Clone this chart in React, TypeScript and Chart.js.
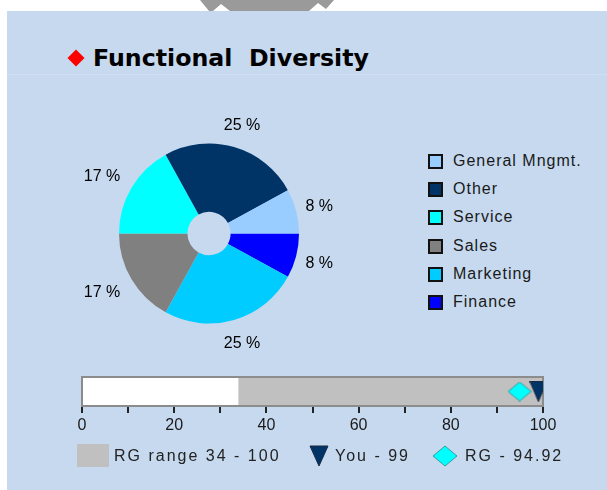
import React, { useEffect, useRef } from 'react';
import { Chart, registerables } from 'chart.js';

Chart.register(...registerables);

// ---------- data ----------
const titleText = 'Functional  Diversity';

const pieCategories = ['General Mngmt.', 'Other', 'Service', 'Sales', 'Marketing', 'Finance'];
const pieValues = [8, 25, 17, 17, 25, 8];
const pieColors = ['#99CCFF', '#003366', '#00FFFF', '#808080', '#00CCFF', '#0000FF'];

const rangeLabel = 'RG range 34 - 100';
const rangeValues: [number, number] = [34, 100];
const youLabel = 'You - 99';
const youValue = 99;
const rgLabel = 'RG - 94.92';
const rgValue = 94.92;
const axisMin = 0;
const axisMax = 100;
const axisStep = 10;
const axisLabelEvery = 20;

// ---------- styles ----------
const PANEL = '#C6D9EE';
const LABEL_FONT = '"Liberation Sans", Arial, sans-serif';

function makeTriangle(): HTMLCanvasElement {
  const c = document.createElement('canvas');
  c.width = 18;
  c.height = 21;
  const g = c.getContext('2d')!;
  g.beginPath();
  g.moveTo(0.5, 0.5);
  g.lineTo(17.5, 0.5);
  g.lineTo(9, 20.5);
  g.closePath();
  g.fillStyle = '#003366';
  g.fill();
  g.strokeStyle = '#1a2a40';
  g.lineWidth = 1;
  g.stroke();
  return c;
}

function makeDiamond(): HTMLCanvasElement {
  const c = document.createElement('canvas');
  c.width = 24;
  c.height = 20;
  const g = c.getContext('2d')!;
  g.beginPath();
  g.moveTo(12, 0.5);
  g.lineTo(23.5, 10);
  g.lineTo(12, 19.5);
  g.lineTo(0.5, 10);
  g.closePath();
  g.fillStyle = '#00FFFF';
  g.fill();
  g.strokeStyle = '#3a9a9a';
  g.lineWidth = 1;
  g.stroke();
  return c;
}

const pieLabelPlugin = {
  id: 'pieLabels',
  afterDatasetsDraw(chart: any) {
    const ctx = chart.ctx as CanvasRenderingContext2D;
    const meta = chart.getDatasetMeta(0);
    const data = chart.data.datasets[0].data as number[];
    ctx.save();
    ctx.font = `16px ${LABEL_FONT}`;
    ctx.fillStyle = '#000000';
    ctx.textAlign = 'center';
    ctx.textBaseline = 'alphabetic';
    meta.data.forEach((arc: any, i: number) => {
      const p = arc.getProps(['x', 'y', 'startAngle', 'endAngle', 'outerRadius'], true);
      const mid = (p.startAngle + p.endAngle) / 2;
      const text = `${data[i]} %`;
      const w = ctx.measureText(text).width;
      const h = 11.5;
      const c = Math.cos(mid);
      const s = Math.sin(mid);
      const rx = p.outerRadius + (c < 0 ? 16 : 10);
      const ry = p.outerRadius + 18;
      const cx = p.x + c * (rx + w / 2);
      const cy = p.y + s * (ry + h / 2);
      ctx.fillText(text, cx, cy + h / 2);
    });
    ctx.restore();
  },
};

const bulletFramePlugin = {
  id: 'bulletFrame',
  beforeDatasetsDraw(chart: any) {
    const { ctx, chartArea } = chart;
    ctx.save();
    ctx.fillStyle = '#FFFFFF';
    ctx.fillRect(chartArea.left, chartArea.top, chartArea.right - chartArea.left, chartArea.bottom - chartArea.top);
    ctx.restore();
  },
  afterDatasetDraw(chart: any, args: any) {
    if (args.index !== 0) return;
    const { ctx, chartArea } = chart;
    ctx.save();
    ctx.strokeStyle = '#8C8C8C';
    ctx.lineWidth = 2;
    ctx.strokeRect(chartArea.left, chartArea.top, chartArea.right - chartArea.left, chartArea.bottom - chartArea.top);
    ctx.restore();
  },
};

export default function App() {
  const pieRef = useRef<HTMLCanvasElement>(null);
  const barRef = useRef<HTMLCanvasElement>(null);

  useEffect(() => {
    // Chart.js draws clockwise; the reference runs counter-clockwise from 3 o'clock.
    const order = pieValues.map((_, i) => pieValues.length - 1 - i);
    const pie = new Chart(pieRef.current!, {
      type: 'doughnut',
      data: {
        labels: order.map((i) => pieCategories[i]),
        datasets: [
          {
            data: order.map((i) => pieValues[i]),
            backgroundColor: order.map((i) => pieColors[i]),
            borderWidth: 0,
          },
        ],
      },
      options: {
        responsive: false,
        animation: false,
        rotation: 90,
        cutout: '24%',
        layout: { padding: { left: 59, right: 61, top: 43.5, bottom: 43.5 } },
        plugins: { legend: { display: false }, tooltip: { enabled: false } },
      },
      plugins: [pieLabelPlugin],
    } as any);

    const bar = new Chart(barRef.current!, {
      type: 'bar',
      data: {
        labels: ['RG'],
        datasets: [
          {
            type: 'bar',
            label: rangeLabel,
            data: [rangeValues],
            backgroundColor: '#C0C0C0',
            borderWidth: 0,
            barPercentage: 1,
            categoryPercentage: 1,
            order: 10,
          },
          {
            type: 'line',
            label: rgLabel,
            data: [{ x: rgValue, y: 'RG' }],
            showLine: false,
            pointStyle: makeDiamond(),
            order: 1,
          },
          {
            type: 'line',
            label: youLabel,
            data: [{ x: youValue, y: 'RG' }],
            showLine: false,
            pointStyle: makeTriangle(),
            order: 0,
          },
        ],
      },
      options: {
        indexAxis: 'y',
        responsive: false,
        animation: false,
        layout: { padding: { left: 22, right: 47, top: 12, bottom: 0 } },
        scales: {
          x: {
            type: 'linear',
            min: axisMin,
            max: axisMax,
            afterFit: (s: any) => {
              s.height = 36;
            },
            ticks: {
              stepSize: axisStep,
              autoSkip: false,
              maxRotation: 0,
              padding: 3,
              color: '#1a1a1a',
              font: { family: LABEL_FONT, size: 16 },
              callback: (v: any) => (Number(v) % axisLabelEvery === 0 ? String(v) : ''),
            },
            grid: { drawOnChartArea: false, drawTicks: true, tickLength: 7, color: '#222222', lineWidth: 2 },
            border: { display: true, color: '#333333', width: 2 },
          },
          y: { display: false },
        },
        plugins: { legend: { display: false }, tooltip: { enabled: false } },
      },
      plugins: [bulletFramePlugin],
    } as any);

    return () => {
      pie.destroy();
      bar.destroy();
    };
  }, []);

  const legendTextStyle: React.CSSProperties = {
    position: 'absolute',
    fontFamily: LABEL_FONT,
    fontSize: 16,
    lineHeight: '16px',
    color: '#1a1a1a',
    whiteSpace: 'pre',
  };

  return (
    <div style={{ position: 'absolute', left: 0, top: 0, width: 607, height: 490, overflow: 'hidden', background: '#FFFFFF' }}>
      {/* watermark fragment */}
      <div
        style={{
          position: 'absolute',
          left: 0,
          top: 0,
          width: 607,
          height: 11,
          background: '#9A9A9A',
          clipPath: 'polygon(200px 0, 334px 0, 326px 9px, 318px 3px, 309px 11px, 230px 11px, 221px 4px, 213px 11px, 209px 11px)',
        }}
      />
      {/* panel */}
      <div style={{ position: 'absolute', left: 7, top: 11, width: 600, height: 479, background: PANEL }} />
      <div style={{ position: 'absolute', left: 7, top: 74, width: 600, height: 1, background: '#D0E0F1' }} />

      {/* title */}
      <div
        style={{
          position: 'absolute',
          left: 70,
          top: 52,
          width: 12,
          height: 12,
          background: '#FF0000',
          transform: 'rotate(45deg)',
        }}
      />
      <div
        style={{
          position: 'absolute',
          left: 93,
          top: 46,
          fontFamily: '"DejaVu Sans", Verdana, sans-serif',
          fontWeight: 'bold',
          fontSize: 23.7,
          lineHeight: '24px',
          color: '#000000',
          whiteSpace: 'pre',
        }}
      >
        {titleText}
      </div>

      {/* pie */}
      <canvas
        ref={pieRef}
        width={300}
        height={267}
        style={{ position: 'absolute', left: 60, top: 100, width: 300, height: 267 }}
      />

      {/* pie legend */}
      {pieCategories.map((name, i) => {
        const cy = 161 + i * 28.2;
        return (
          <React.Fragment key={name}>
            <div
              style={{
                position: 'absolute',
                left: 428,
                top: cy - 7,
                width: 11,
                height: 11,
                border: '2px solid #111111',
                background: pieColors[i],
              }}
            />
            <div style={{ ...legendTextStyle, left: 453, top: cy - 8, letterSpacing: '1px' }}>{name}</div>
          </React.Fragment>
        );
      })}

      {/* bullet chart */}
      <canvas
        ref={barRef}
        width={530}
        height={77}
        style={{ position: 'absolute', left: 60, top: 365, width: 530, height: 77 }}
      />

      {/* bullet legend */}
      <div style={{ position: 'absolute', left: 77, top: 444, width: 32, height: 23, background: '#C0C0C0' }} />
      <div style={{ ...legendTextStyle, left: 114, top: 448, letterSpacing: '2px', color: '#222222' }}>{rangeLabel}</div>
      <svg style={{ position: 'absolute', left: 309, top: 445 }} width={20} height={22}>
        <polygon points="1,1 19,1 10,21" fill="#003366" stroke="#1a2a40" strokeWidth={1} />
      </svg>
      <div style={{ ...legendTextStyle, left: 335, top: 448, letterSpacing: '2px', color: '#222222' }}>{youLabel}</div>
      <svg style={{ position: 'absolute', left: 432, top: 445 }} width={26} height={22}>
        <polygon points="13,1 25,11 13,21 1,11" fill="#00FFFF" stroke="#3a9a9a" strokeWidth={1} />
      </svg>
      <div style={{ ...legendTextStyle, left: 465, top: 448, letterSpacing: '2px', color: '#222222' }}>{rgLabel}</div>
    </div>
  );
}
